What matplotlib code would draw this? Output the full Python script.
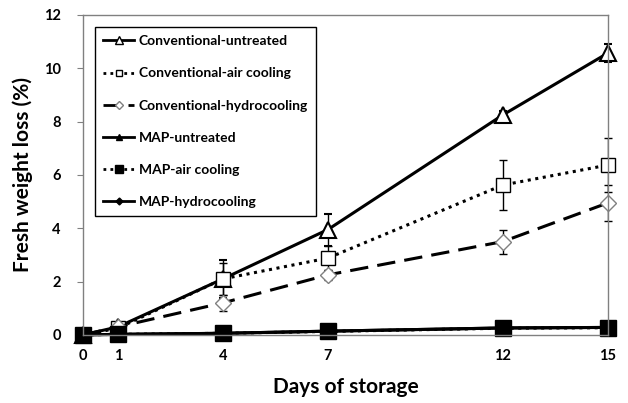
import matplotlib
matplotlib.use("Agg")
import matplotlib.pyplot as plt
from matplotlib.lines import Line2D

days = [0, 1, 4, 7, 12, 15]

conv_untreated = [0.0, 0.3, 2.1, 3.95, 8.25, 10.57]
conv_untreated_err = [0.0, 0.05, 0.7, 0.6, 0.15, 0.35]
conv_air = [0.0, 0.25, 2.1, 2.88, 5.62, 6.37]
conv_air_err = [0.0, 0.05, 0.6, 0.45, 0.95, 1.0]
conv_hydro = [0.0, 0.3, 1.2, 2.25, 3.5, 4.95]
conv_hydro_err = [0.0, 0.05, 0.3, 0.2, 0.45, 0.67]
map_untreated = [0.0, 0.02, 0.06, 0.14, 0.26, 0.28]
map_air = [0.0, 0.02, 0.06, 0.13, 0.25, 0.27]
map_hydro = [0.0, 0.02, 0.06, 0.14, 0.26, 0.28]
map_err = [0.0, 0.01, 0.02, 0.02, 0.03, 0.03]

labels = ["Conventional-untreated", "Conventional-air cooling",
          "Conventional-hydrocooling", "MAP-untreated",
          "MAP-air cooling", "MAP-hydrocooling"]

plt.rcParams['font.family'] = ['Lato', 'DejaVu Sans']

fig = plt.figure(figsize=(6.28, 4.03), dpi=100)
ax = fig.add_axes([0.132, 0.169, 0.836, 0.794])

ebar = dict(ecolor='black', elinewidth=1, capsize=3, capthick=1)

series = [
    (conv_untreated, conv_untreated_err, '-', '^', 11, 'white', 'black', 1.5),
    (conv_air, conv_air_err, (0, (1, 1.5)), 's', 10, 'white', 'black', 1),
    (conv_hydro, conv_hydro_err, (0, (6, 3)), 'D', 8, 'white', 'gray', 1),
    (map_untreated, map_err, '-', '^', 10, 'black', 'black', 1),
    (map_air, map_err, (0, (1, 1.5)), 's', 11, 'black', 'black', 1),
    (map_hydro, map_err, '-', 'D', 7, 'black', 'black', 1),
]

handles = []
for (vals, err, ls, mk, ms, fc, ec, mew), lab in zip(series, labels):
    line, caps, bars = ax.errorbar(days, vals, yerr=err, color='black', lw=2.2,
                                   ls=ls, marker=mk, ms=ms, mfc=fc, mec=ec,
                                   mew=mew, **ebar)
    line.set_clip_on(False)
    for c in caps:
        c.set_clip_on(False)
    handles.append(Line2D([], [], color='black', lw=2, ls=ls, marker=mk,
                          ms=ms * 0.5, mfc=fc, mec=ec, mew=1, label=lab))

ax.set_xlim(0, 15)
ax.set_ylim(0, 12)
ax.set_xticks(days)
ax.set_yticks(range(0, 13, 2))
for lab in ax.get_xticklabels() + ax.get_yticklabels():
    lab.set_fontweight('bold')
    lab.set_fontsize(10.5)
ax.tick_params(axis='y', direction='out', length=4, color='gray', pad=12)
ax.tick_params(axis='x', length=0, pad=10)
for s in ax.spines.values():
    s.set_color('gray')
    s.set_linewidth(1)

ax.set_xlabel("Days of storage", fontsize=15, fontweight='bold', labelpad=10)
ax.set_ylabel("Fresh weight loss (%)", fontsize=15, fontweight='bold', labelpad=8)

leg = ax.legend(handles=handles, loc='upper left', bbox_to_anchor=(0.023, 0.9625),
                prop={'weight': 'bold', 'size': 10}, fancybox=False,
                edgecolor='black', framealpha=1, handlelength=2.2,
                labelspacing=1.45, borderpad=0.6, handletextpad=0.35,
                borderaxespad=0)
leg.get_frame().set_linewidth(1)

fig.savefig("out.png", dpi=100)
